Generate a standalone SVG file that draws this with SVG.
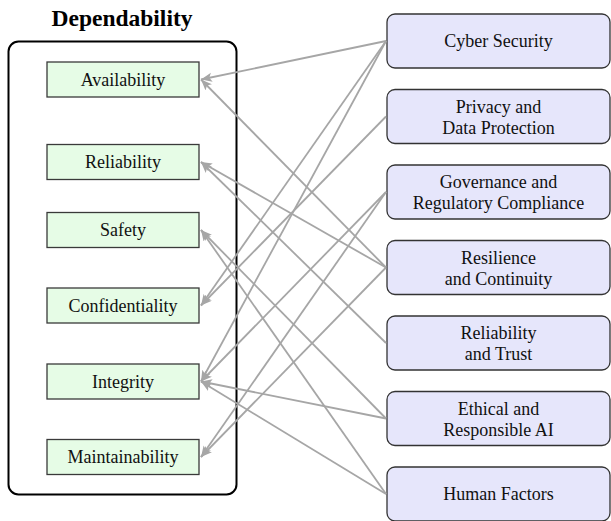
<svg xmlns="http://www.w3.org/2000/svg" width="611" height="521" viewBox="0 0 611 521">
<defs>
<marker id="ah" markerUnits="userSpaceOnUse" markerWidth="13" markerHeight="10" refX="11" refY="4.5" orient="auto">
<path d="M0,0 L11,4.5 L0,9 L2.5,4.5 z" fill="#a6a6a6"/>
</marker>
<style>
.t{font-family:"Liberation Serif","Times New Roman",serif;font-size:18px;fill:#111;text-anchor:middle}
.title{font-family:"Liberation Serif","Times New Roman",serif;font-size:23.5px;font-weight:bold;fill:#000;text-anchor:middle}
.lb{fill:#e6fce6;stroke:#3a3a3a;stroke-width:1.3}
.rb{fill:#e6e6fb;stroke:#333;stroke-width:1.3}
.e{fill:none;stroke:#a6a6a6;stroke-width:1.8;marker-end:url(#ah)}
</style>
</defs>
<rect width="611" height="521" fill="#ffffff"/>
<g id="dependability">
<rect x="8.5" y="41.5" width="228" height="453" rx="10" fill="none" stroke="#000" stroke-width="2"/>
<text class="title" x="122" y="25.5">Dependability</text>
</g>
<g id="availability"><rect class="lb" x="47" y="62" width="152" height="35"/><text class="t" x="123" y="85.5">Availability</text></g>
<g id="reliability"><rect class="lb" x="47" y="144.5" width="152" height="35"/><text class="t" x="123" y="168">Reliability</text></g>
<g id="safety"><rect class="lb" x="47" y="212.5" width="152" height="35"/><text class="t" x="123" y="236">Safety</text></g>
<g id="confidentiality"><rect class="lb" x="47" y="288" width="152" height="35"/><text class="t" x="123" y="311.5">Confidentiality</text></g>
<g id="integrity"><rect class="lb" x="47" y="364" width="152" height="35"/><text class="t" x="123" y="387.5">Integrity</text></g>
<g id="maintainability"><rect class="lb" x="47" y="439.5" width="152" height="35"/><text class="t" x="123" y="463">Maintainability</text></g>
<g id="cyber"><rect class="rb" x="387" y="14" width="223" height="54" rx="8"/><text class="t" x="498.5" y="47">Cyber Security</text></g>
<g id="privacy"><rect class="rb" x="387" y="89.5" width="223" height="54" rx="8"/><text class="t" x="498.5" y="112.5">Privacy and</text><text class="t" x="498.5" y="133.5">Data Protection</text></g>
<g id="governance"><rect class="rb" x="387" y="165" width="223" height="54" rx="8"/><text class="t" x="498.5" y="188">Governance and</text><text class="t" x="498.5" y="209">Regulatory Compliance</text></g>
<g id="resilience"><rect class="rb" x="387" y="240.5" width="223" height="54" rx="8"/><text class="t" x="498.5" y="263.5">Resilience</text><text class="t" x="498.5" y="284.5">and Continuity</text></g>
<g id="reliabilitytrust"><rect class="rb" x="387" y="316" width="223" height="54" rx="8"/><text class="t" x="498.5" y="339">Reliability</text><text class="t" x="498.5" y="360">and Trust</text></g>
<g id="ethical"><rect class="rb" x="387" y="391.5" width="223" height="54" rx="8"/><text class="t" x="498.5" y="414.5">Ethical and</text><text class="t" x="498.5" y="435.5">Responsible AI</text></g>
<g id="human"><rect class="rb" x="387" y="467" width="223" height="54" rx="8"/><text class="t" x="498.5" y="500">Human Factors</text></g>
<g id="connectors">
<path class="e" d="M386,41 L201,79.5"/>
<path class="e" d="M386,41 L201,305.5"/>
<path class="e" d="M386,41 L201,381.5"/>
<path class="e" d="M386,116.5 L201,305.5"/>
<path class="e" d="M386,192 L201,381.5"/>
<path class="e" d="M386,192 L201,457"/>
<path class="e" d="M386,267.5 L201,79.5"/>
<path class="e" d="M386,267.5 L201,162"/>
<path class="e" d="M386,267.5 L201,457"/>
<path class="e" d="M386,343 L201,162"/>
<path class="e" d="M386,418.5 L201,230"/>
<path class="e" d="M386,418.5 L201,381.5"/>
<path class="e" d="M386,494 L201,230"/>
<path class="e" d="M386,494 L201,381.5"/>
</g>
</svg>
